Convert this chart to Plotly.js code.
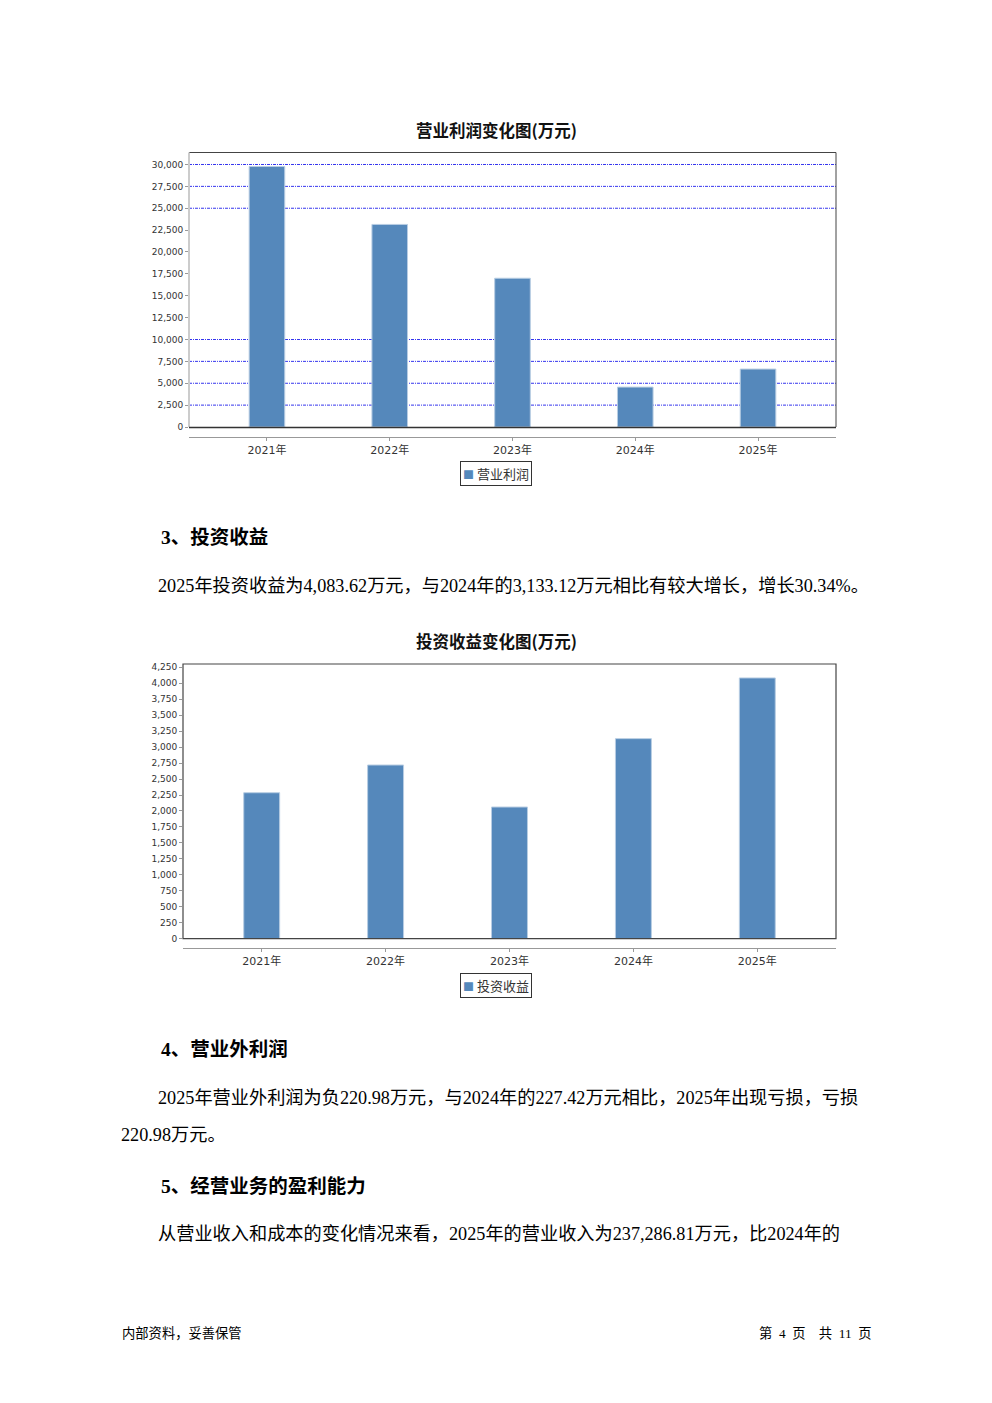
<!DOCTYPE html>
<html>
<head>
<meta charset="utf-8">
<script src="https://cdn.plot.ly/plotly-3.0.1.min.js"></script>
<style>html,body{margin:0;padding:0;background:#fff;}#page{width:992px;height:1403px;}</style>
</head>
<body>
<div id="page"></div>
<script>
// ---- data ----
const years = ['2021年', '2022年', '2023年', '2024年', '2025年'];
const operatingProfit = [29770, 23150, 17000, 4560, 6620];
const investIncome = [2286, 2720, 2062, 3133.12, 4083.62];
const seriesNames = ['营业利润', '投资收益'];
const chart1Ticks = [0, 2500, 5000, 7500, 10000, 12500, 15000, 17500, 20000, 22500, 25000, 27500, 30000];
const chart1Grid = [2500, 5000, 7500, 10000, 25000, 27500, 30000];
const chart2Ticks = [0, 250, 500, 750, 1000, 1250, 1500, 1750, 2000, 2250, 2500, 2750, 3000, 3250, 3500, 3750, 4000, 4250];
const fmt = v => v.toLocaleString('en-US');

const W = 992, H = 1403;
const px = x => x / W;
const py = y => 1 - y / H;

const CJK = 'Liberation Serif, Noto Sans CJK SC, serif';
const SANS = 'DejaVu Sans, Noto Sans CJK SC, sans-serif';
const barColor = '#5588bb';

const traces = [
  {type: 'bar', x: years, y: operatingProfit, name: seriesNames[0], xaxis: 'x', yaxis: 'y',
   width: 0.29, marker: {color: barColor, line: {color: '#b8cde3', width: 1}}, showlegend: false},
  {type: 'bar', x: years, y: investIncome, name: seriesNames[1], xaxis: 'x2', yaxis: 'y2',
   width: 0.29, marker: {color: barColor, line: {color: '#b8cde3', width: 1}}, showlegend: false}
];

const xCommon = {
  type: 'category', range: [-0.635, 4.635], showgrid: false, zeroline: false,
  showline: true, linecolor: '#999', linewidth: 1, ticks: 'outside', ticklen: 3, tickcolor: '#999',
  tickfont: {family: SANS, size: 11, color: '#333'}, fixedrange: true
};
const yCommon = {
  showgrid: false, zeroline: false, showline: false, ticks: 'outside', ticklen: 3, tickcolor: '#999',
  tickfont: {family: SANS, size: 9, color: '#333'}, fixedrange: true
};

const shapes = [];
chart1Grid.forEach(v => shapes.push({type: 'line', xref: 'x domain', yref: 'y', x0: 0, x1: 1, y0: v, y1: v,
  line: {color: '#3535ee', width: 1, dash: '3px,1px,1px,1px'}, layer: 'below'}));
// chart 1 frame
shapes.push({type: 'line', xref: 'paper', yref: 'paper', x0: px(189), x1: px(836), y0: py(152.5), y1: py(152.5), line: {color: '#444', width: 1}});
shapes.push({type: 'line', xref: 'paper', yref: 'paper', x0: px(836), x1: px(836), y0: py(152.5), y1: py(427), line: {color: '#444', width: 1}});
shapes.push({type: 'line', xref: 'paper', yref: 'paper', x0: px(189), x1: px(189), y0: py(152.5), y1: py(427), line: {color: '#ccc', width: 2}});
shapes.push({type: 'line', xref: 'paper', yref: 'paper', x0: px(189), x1: px(836), y0: py(427.5), y1: py(427.5), line: {color: '#333', width: 1.5}});
// chart 2 frame
shapes.push({type: 'rect', xref: 'paper', yref: 'paper', x0: px(183), x1: px(836), y0: py(664), y1: py(938.7), line: {color: '#444', width: 1.2}});

const ann = [];
function txt(text, x, y, size, opts = {}) {
  ann.push(Object.assign({text, xref: 'paper', yref: 'paper', x: px(x), y: py(y), showarrow: false,
    xanchor: 'left', yanchor: 'middle', font: {family: CJK, size, color: '#000'}}, opts));
}
const titleFont = {family: 'Noto Sans CJK SC, sans-serif', size: 16.5, color: '#111'};
txt('<b>营业利润变化图(万元)</b>', 496, 130, 16.5, {xanchor: 'center', font: titleFont});
txt('<b>投资收益变化图(万元)</b>', 496, 641, 16.5, {xanchor: 'center', font: titleFont});

// legend boxes (drawn as bordered annotations)
const legFont = {family: 'Noto Sans CJK SC, sans-serif', size: 13, color: '#333'};
function legendBox(name, y) {
  ann.push({text: '<span style="color:' + barColor + ';font-size:11px">■</span> ' + name,
    xref: 'paper', yref: 'paper', x: px(496), y: py(y), showarrow: false, xanchor: 'center', yanchor: 'middle',
    font: legFont, bordercolor: '#333', borderwidth: 1, borderpad: 2, bgcolor: '#fff'});
}
legendBox(seriesNames[0], 473.5);
legendBox(seriesNames[1], 985.5);

const bodySize = 18.2;
txt('<b>3、投资收益</b>', 159, 537, 19.5);
txt('2025年投资收益为4,083.62万元，与2024年的3,133.12万元相比有较大增长，增长30.34%。', 156, 586, bodySize);
txt('<b>4、营业外利润</b>', 159, 1049, 19.5);
txt('2025年营业外利润为负220.98万元，与2024年的227.42万元相比，2025年出现亏损，亏损', 156, 1098, bodySize);
txt('220.98万元。', 119, 1135, bodySize);
txt('<b>5、经营业务的盈利能力</b>', 159, 1186, 19.5);
txt('从营业收入和成本的变化情况来看，2025年的营业收入为237,286.81万元，比2024年的', 156, 1234, bodySize);
txt('内部资料，妥善保管', 120, 1333, 13.3, {font: {family: CJK, size: 13.3, color: '#000'}});
txt('第&nbsp;&nbsp;4&nbsp;&nbsp;页&nbsp;&nbsp;&nbsp;&nbsp;共&nbsp;&nbsp;11&nbsp;&nbsp;页', 874, 1333, 13.3, {xanchor: 'right', font: {family: CJK, size: 13.3, color: '#000'}});

const layout = {
  width: W, height: H, margin: {l: 0, r: 0, t: 0, b: 0}, paper_bgcolor: '#fff', plot_bgcolor: '#fff',
  showlegend: false, bargap: 0,
  xaxis: Object.assign({}, xCommon, {domain: [px(189), px(836)], anchor: 'free', position: py(436.5)}),
  yaxis: Object.assign({}, yCommon, {domain: [py(427), py(152.5)], range: [0, 31370], anchor: 'x',
    tickvals: chart1Ticks, ticktext: chart1Ticks.map(fmt)}),
  xaxis2: Object.assign({}, xCommon, {domain: [px(183), px(836)], anchor: 'free', position: py(948)}),
  yaxis2: Object.assign({}, yCommon, {domain: [py(938.7), py(664)], range: [0, 4302], anchor: 'x2',
    tickvals: chart2Ticks, ticktext: chart2Ticks.map(fmt)}),
  shapes, annotations: ann
};

Plotly.newPlot('page', traces, layout, {staticPlot: true, displayModeBar: false});
</script>
</body>
</html>
